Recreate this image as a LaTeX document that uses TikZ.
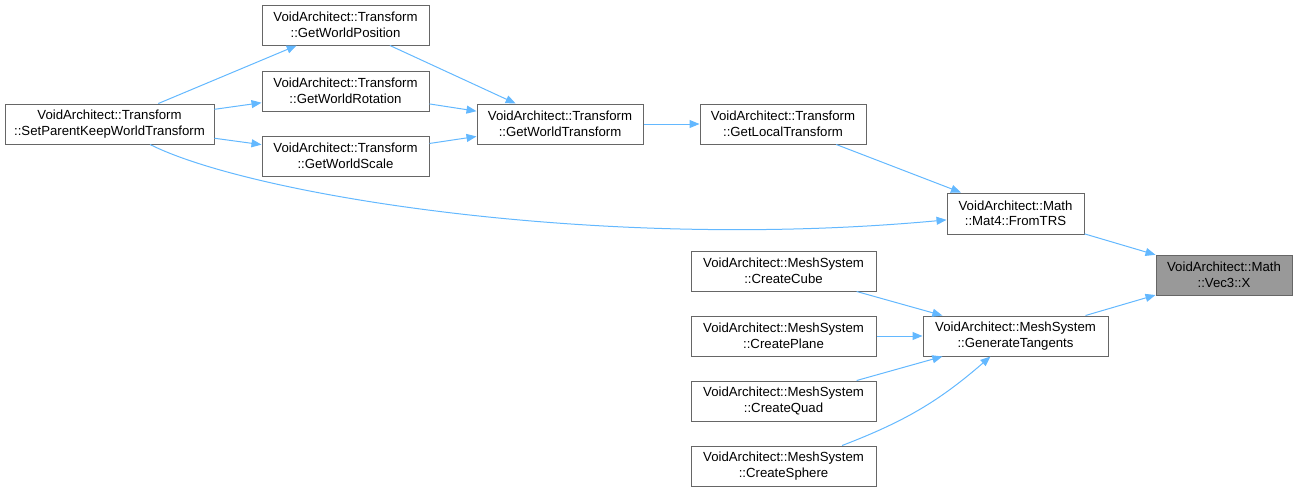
\documentclass[tikz,border=0pt]{standalone}
\usepackage{fontspec}
\setmainfont{Liberation Sans}
\usetikzlibrary{arrows.meta}

\definecolor{edgeblue}{HTML}{63B8FF}
\definecolor{boxgray}{HTML}{666666}
\definecolor{xgray}{HTML}{999999}

\tikzset{
    fn/.style={draw=boxgray, line width=1pt, fill=white, align=center,
        minimum height=40pt, inner sep=2pt,
        font=\fontsize{13.2}{15.5}\selectfont},
    fnx/.style={fn, fill=xgray},
    call/.style={draw=edgeblue, line width=1pt,
        -{Triangle[length=10pt,width=8pt]}}
}

\begin{document}
\begin{tikzpicture}[x=1pt, y=-1pt]
    \useasboundingbox (0,0) rectangle (1298,493);

    % Transform chain
    \node[fn, minimum width=209pt] (setparent) at (109.5,124) {VoidArchitect::Transform\\::SetParentKeepWorldTransform};
    \node[fn, minimum width=167pt] (worldpos) at (345.5,25) {VoidArchitect::Transform\\::GetWorldPosition};
    \node[fn, minimum width=167pt] (worldrot) at (345.5,91) {VoidArchitect::Transform\\::GetWorldRotation};
    \node[fn, minimum width=167pt] (worldscale) at (345.5,156) {VoidArchitect::Transform\\::GetWorldScale};
    \node[fn, minimum width=166pt] (worldtf) at (560,124) {VoidArchitect::Transform\\::GetWorldTransform};
    \node[fn, minimum width=166pt] (localtf) at (783,124) {VoidArchitect::Transform\\::GetLocalTransform};
    \node[fn, minimum width=137pt, minimum height=41pt] (fromtrs) at (1015.5,213.5) {VoidArchitect::Math\\::Mat4::FromTRS};

    % Target
    \node[fnx, minimum width=136pt] (vecx) at (1224,275) {VoidArchitect::Math\\::Vec3::X};

    % Mesh system
    \node[fn, minimum width=185pt] (gentan) at (1015.5,336) {VoidArchitect::MeshSystem\\::GenerateTangents};
    \node[fn, minimum width=185pt] (cube) at (783.5,271) {VoidArchitect::MeshSystem\\::CreateCube};
    \node[fn, minimum width=185pt] (plane) at (783.5,336) {VoidArchitect::MeshSystem\\::CreatePlane};
    \node[fn, minimum width=185pt] (quad) at (783.5,401) {VoidArchitect::MeshSystem\\::CreateQuad};
    \node[fn, minimum width=185pt] (sphere) at (783.5,466) {VoidArchitect::MeshSystem\\::CreateSphere};

    % Calls
    \draw[call] (setparent) -- (worldpos);
    \draw[call] (setparent) -- (worldrot);
    \draw[call] (setparent) -- (worldscale);
    \draw[call] (setparent) .. controls (250,195) and (600,252) .. (fromtrs);
    \draw[call] (worldpos) -- (worldtf);
    \draw[call] (worldrot) -- (worldtf);
    \draw[call] (worldscale) -- (worldtf);
    \draw[call] (worldtf) -- (localtf);
    \draw[call] (localtf) -- (fromtrs);
    \draw[call] (fromtrs) -- (vecx);
    \draw[call] (gentan) -- (vecx);
    \draw[call] (cube) -- (gentan);
    \draw[call] (plane) -- (gentan);
    \draw[call] (quad) -- (gentan);
    \draw[call] (sphere) to[bend right=10] (gentan);
\end{tikzpicture}
\end{document}
